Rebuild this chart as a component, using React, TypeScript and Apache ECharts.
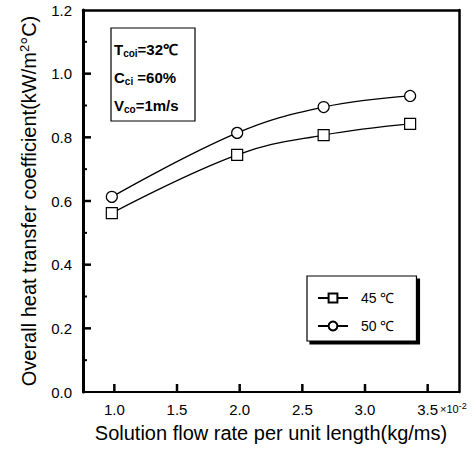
import React, { useEffect, useRef } from "react";
import * as echarts from "echarts";

const flowRate = [0.98, 1.98, 2.67, 3.36];
const u45 = [0.562, 0.745, 0.807, 0.842];
const u50 = [0.613, 0.814, 0.895, 0.93];
const xTicks = [1.0, 1.5, 2.0, 2.5, 3.0, 3.5];
const yMajorTicks = [0.2, 0.4, 0.6, 0.8, 1.0];
const yMinorTicks = [0.1, 0.3, 0.5, 0.7, 0.9, 1.1];
const seriesNames = ["45 ℃", "50 ℃"];

const X_MIN = 0.75;
const X_MAX = 3.75;
const Y_MIN = 0;
const Y_MAX = 1.2;
const Y_STEP = 0.2;

export default function App() {
  const ref = useRef<HTMLDivElement>(null);
  useEffect(() => {
    const chart = echarts.init(ref.current!, null, { renderer: "svg" });
    const font = "Liberation Sans, Arial, sans-serif";
    const mk = (name: string, ys: number[], symbol: string) => ({
      name,
      type: "line",
      xAxisIndex: 0,
      yAxisIndex: 0,
      smooth: 0.4,
      data: flowRate.map((x, i) => [x, ys[i]]),
      symbol,
      symbolSize: 11,
      showSymbol: true,
      lineStyle: { color: "#000", width: 1.3 },
      itemStyle: { color: "#fff", borderColor: "#000", borderWidth: 1.2 },
      z: 3,
    });
    const xTickSeries = {
      type: "custom",
      coordinateSystem: "cartesian2d",
      silent: true,
      clip: false,
      z: 6,
      encode: { x: 0, y: 1 },
      data: xTicks.map((v) => [v, Y_MIN]),
      renderItem: (params: any, api: any) => {
        const p = api.coord([api.value(0), api.value(1)]);
        return {
          type: "rect",
          shape: { x: p[0] - 1.25, y: p[1] - 8, width: 2.5, height: 8 },
          style: { fill: "#000" },
        };
      },
    };
    const yTickSeries = (vals: number[], len: number, w: number) => ({
      type: "custom",
      coordinateSystem: "cartesian2d",
      silent: true,
      clip: false,
      z: 6,
      encode: { x: 0, y: 1 },
      data: vals.map((v) => [X_MIN, v]),
      renderItem: (params: any, api: any) => {
        const p = api.coord([api.value(0), api.value(1)]);
        return {
          type: "rect",
          shape: { x: p[0], y: p[1] - w / 2, width: len, height: w },
          style: { fill: "#000" },
        };
      },
    });
    const frameAxis = (pos: string, width: number) => ({
      type: "value",
      position: pos,
      splitLine: { show: false },
      axisLine: { show: true, onZero: false, lineStyle: { color: "#000", width } },
      axisTick: { show: false },
      axisLabel: { show: false },
      minorTick: { show: false },
    });
    chart.setOption({
      animation: false,
      backgroundColor: "#fff",
      textStyle: { fontFamily: font },
      grid: { left: 83, right: 14, top: 10, bottom: 58, show: false },
      xAxis: [
        {
          type: "value",
          position: "bottom",
          min: X_MIN,
          max: X_MAX,
          splitLine: { show: false },
          axisLine: { show: true, onZero: false, lineStyle: { color: "#000", width: 2 } },
          axisTick: { show: false },
          axisLabel: {
            color: "#000",
            fontSize: 15,
            margin: 10,
            customValues: xTicks,
            formatter: (v: number) => v.toFixed(1),
          },
          name: "Solution flow rate per unit length(kg/ms)",
          nameLocation: "middle",
          nameGap: 31,
          nameTextStyle: { color: "#000", fontSize: 20, fontFamily: font },
        },
        { ...frameAxis("top", 2.5), min: X_MIN, max: X_MAX },
      ],
      yAxis: [
        {
          type: "value",
          position: "left",
          min: Y_MIN,
          max: Y_MAX,
          interval: Y_STEP,
          splitLine: { show: false },
          axisLine: { show: true, onZero: false, lineStyle: { color: "#000", width: 3 } },
          axisTick: { show: false },
          axisLabel: {
            color: "#000",
            fontSize: 15,
            margin: 11,
            formatter: (v: number) => v.toFixed(1),
          },
          name: "Overall heat transfer coefficient(kW/m{sup|2}°C)",
          nameLocation: "middle",
          nameGap: 44,
          nameRotate: 90,
          nameTextStyle: {
            color: "#000",
            fontSize: 20,
            fontFamily: font,
            rich: {
              sup: { fontSize: 13, verticalAlign: "top", color: "#000", padding: [0, 0, 8, 0] },
            },
          },
        },
        { ...frameAxis("right", 2.5), min: Y_MIN, max: Y_MAX },
      ],
      legend: {
        orient: "vertical",
        left: 307,
        top: 276,
        data: seriesNames,
        itemWidth: 30,
        itemHeight: 11,
        itemGap: 14,
        padding: [15, 22, 8, 10],
        backgroundColor: "#fff",
        borderColor: "#000",
        borderWidth: 1.2,
        borderRadius: 0,
        shadowColor: "#000",
        shadowOffsetX: 3,
        shadowOffsetY: 3,
        shadowBlur: 0,
        textStyle: { color: "#000", fontSize: 14, fontFamily: font, padding: [0, 0, 0, 8] },
      },
      graphic: [
        {
          type: "rect",
          shape: { x: 111, y: 28, width: 84, height: 93 },
          style: { fill: "#fff", stroke: "#000", lineWidth: 1.2 },
          z: 10,
        },
        {
          type: "text",
          x: 114,
          y: 41,
          z: 11,
          style: {
            text: "T{sub|coi}=32℃",
            fill: "#000",
            font: "bold 15px " + font,
            rich: { sub: { fontSize: 10, fontWeight: "bold", verticalAlign: "bottom", padding: [7, 0, 0, 0], fill: "#000" } },
          },
        },
        {
          type: "text",
          x: 114,
          y: 69,
          z: 11,
          style: {
            text: "C{sub|ci} =60%",
            fill: "#000",
            font: "bold 15px " + font,
            rich: { sub: { fontSize: 10, fontWeight: "bold", verticalAlign: "bottom", padding: [7, 0, 0, 0], fill: "#000" } },
          },
        },
        {
          type: "text",
          x: 114,
          y: 97,
          z: 11,
          style: {
            text: "V{sub|co}=1m/s",
            fill: "#000",
            font: "bold 15px " + font,
            rich: { sub: { fontSize: 10, fontWeight: "bold", verticalAlign: "bottom", padding: [7, 0, 0, 0], fill: "#000" } },
          },
        },
        {
          type: "text",
          x: 440,
          y: 401,
          z: 11,
          style: {
            text: "×10{sup|-2}",
            fill: "#000",
            font: "11px " + font,
            rich: { sup: { fontSize: 9, verticalAlign: "top", padding: [0, 0, 6, 0], fill: "#000" } },
          },
        },
      ],
      series: [
        mk(seriesNames[0], u45, "rect"),
        mk(seriesNames[1], u50, "circle"),
        xTickSeries,
        yTickSeries(yMajorTicks, 8, 2.5),
        yTickSeries(yMinorTicks, 4, 2),
      ],
    });
    return () => chart.dispose();
  }, []);
  return <div ref={ref} style={{ position: "fixed", left: 0, top: 0, width: 473, height: 450 }} />;
}
